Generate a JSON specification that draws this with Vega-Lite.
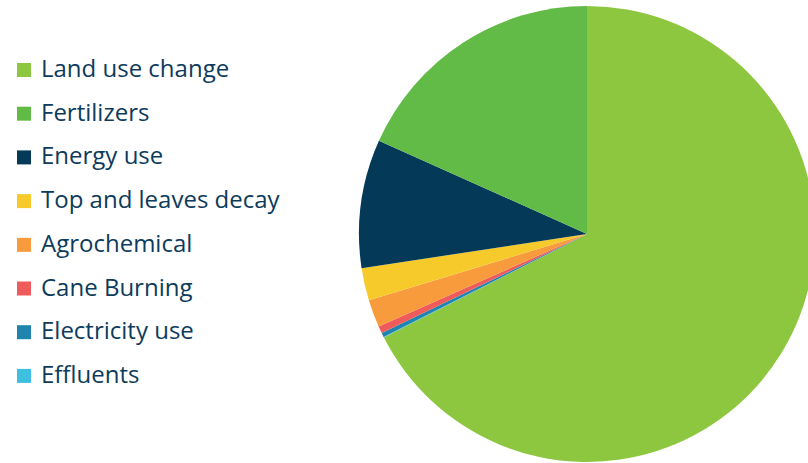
{
  "$schema": "https://vega.github.io/schema/vega-lite/v6.json",
  "autosize": {"type": "none"},
  "padding": {"left": 359, "top": 6, "right": 0, "bottom": 0},
  "width": 456,
  "height": 456,
  "background": "white",
  "config": {"view": {"stroke": null}},
  "data": {
    "values": [
      {"source": "Land use change", "share": 67.5, "rank": 1},
      {"source": "Effluents", "share": 0.05, "rank": 2},
      {"source": "Electricity use", "share": 0.3, "rank": 3},
      {"source": "Cane Burning", "share": 0.5, "rank": 4},
      {"source": "Agrochemical", "share": 1.96, "rank": 5},
      {"source": "Top and leaves decay", "share": 2.3, "rank": 6},
      {"source": "Energy use", "share": 9.1, "rank": 7},
      {"source": "Fertilizers", "share": 18.3, "rank": 8}
    ]
  },
  "mark": {"type": "arc"},
  "encoding": {
    "theta": {"field": "share", "type": "quantitative", "stack": true},
    "order": {"field": "rank", "type": "quantitative"},
    "color": {
      "field": "source",
      "type": "nominal",
      "scale": {
        "domain": ["Land use change", "Fertilizers", "Energy use", "Top and leaves decay", "Agrochemical", "Cane Burning", "Electricity use", "Effluents"],
        "range": ["#8DC63F", "#62BB46", "#043A58", "#F7CA2C", "#F79B3C", "#EF5B5B", "#1F85AE", "#3FBFE0"]
      },
      "legend": {
        "title": null,
        "orient": "none",
        "legendX": -347,
        "legendY": 52,
        "symbolType": "square",
        "symbolSize": 196,
        "symbolStrokeWidth": 0,
        "labelFont": "Open Sans",
        "labelFontSize": 24,
        "labelColor": "#0D3B5C",
        "labelOffset": 5,
        "rowPadding": 19.7,
        "labelLimit": 400
      }
    }
  }
}
